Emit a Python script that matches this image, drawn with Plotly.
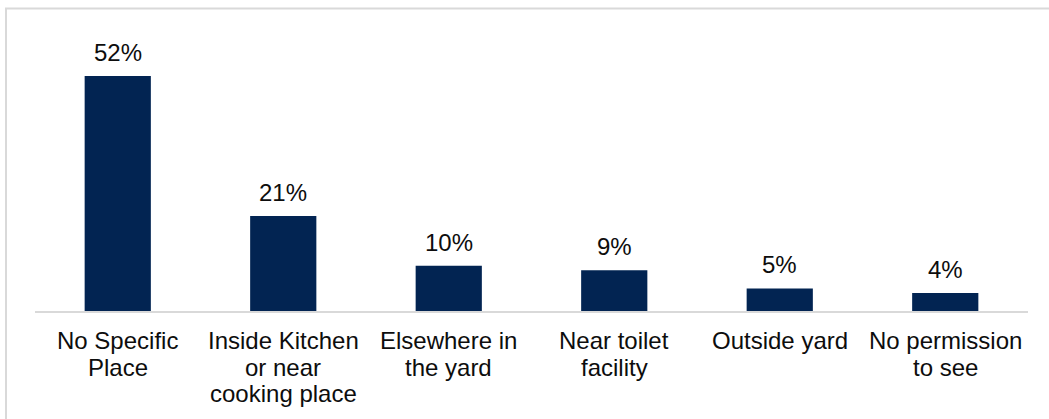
import plotly.graph_objects as go

categories = [
    "No Specific<br>Place",
    "Inside Kitchen<br>or near<br>cooking place",
    "Elsewhere in<br>the yard",
    "Near toilet<br>facility",
    "Outside yard",
    "No permission<br>to see",
]
values = [52, 21, 10, 9, 5, 4]
value_labels = [f"{v}%" for v in values]

BAR_COLOR = "#022452"
TEXT_COLOR = "#0d0d0d"
FONT = "Liberation Sans, Arial, sans-serif"
FONT_SIZE = 24
LINE_STEP = 26.7  # px between category label lines

xs = list(range(len(categories)))

fig = go.Figure(
    go.Bar(
        x=xs,
        y=values,
        marker=dict(color=BAR_COLOR, line=dict(width=0)),
        hoverinfo="skip",
    )
)

# Value labels above bars
for i, (v, lab) in enumerate(zip(values, value_labels)):
    fig.add_annotation(
        x=i, y=v, text=lab, showarrow=False,
        xanchor="center", yanchor="bottom", yshift=8,
        font=dict(family=FONT, size=FONT_SIZE, color=TEXT_COLOR),
    )

# Category labels, one annotation per line for tight line spacing
for i, cat in enumerate(categories):
    for k, line in enumerate(cat.split("<br>")):
        fig.add_annotation(
            x=i, y=0, text=line, showarrow=False,
            xanchor="center", yanchor="top",
            yshift=-14 - k * LINE_STEP,
            font=dict(family=FONT, size=FONT_SIZE, color=TEXT_COLOR),
        )

# Outer chart frame (top and left edges visible)
fig.add_shape(type="line", xref="paper", yref="paper",
              x0=-30 / 993, x1=1.2, y0=(311 - 8.5) / 281, y1=(311 - 8.5) / 281,
              line=dict(color="#d9d9d9", width=2))
fig.add_shape(type="line", xref="paper", yref="paper",
              x0=-29 / 993, x1=-29 / 993, y0=-0.5, y1=(311 - 8.5) / 281,
              line=dict(color="#d9d9d9", width=2))

fig.update_layout(
    width=1049, height=419,
    margin=dict(l=35, r=21, t=30, b=108),
    paper_bgcolor="white", plot_bgcolor="white",
    bargap=0.6,
    showlegend=False,
    font=dict(family=FONT, size=FONT_SIZE, color=TEXT_COLOR),
    xaxis=dict(
        tickmode="array",
        tickvals=xs,
        showticklabels=False,
        range=[-0.5, len(categories) - 0.5],
        showline=True, linecolor="#d9d9d9", linewidth=2,
        ticks="", showgrid=False, zeroline=False,
    ),
    yaxis=dict(
        range=[0, 281 / 4.52],
        visible=False, showgrid=False, zeroline=False,
    ),
)

fig.write_html("out.html")
